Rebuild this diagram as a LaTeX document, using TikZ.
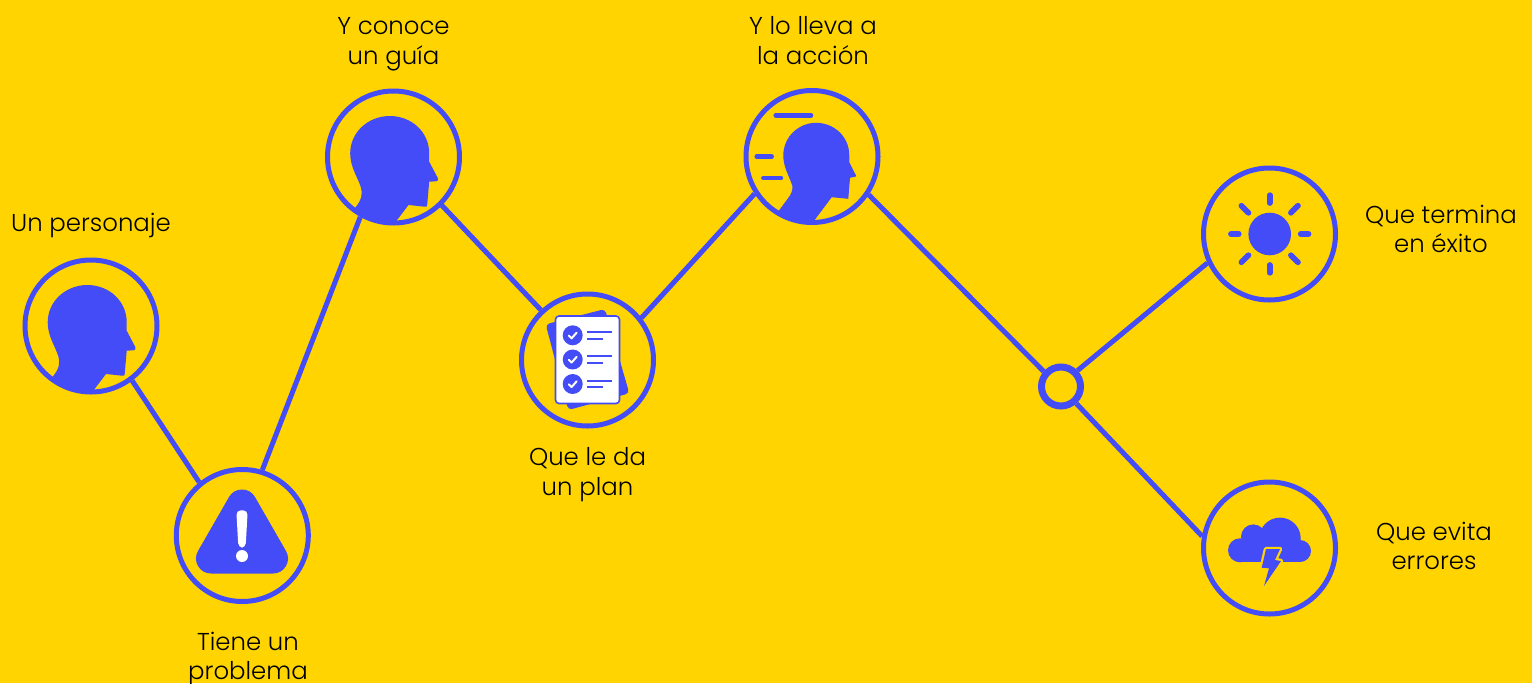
\documentclass[tikz,border=0pt]{standalone}
\usepackage{fontspec}
\setmainfont[UprightFont=* Light]{Poppins}
\definecolor{bgy}{HTML}{FFD400}
\definecolor{ink}{HTML}{444CF7}
\tikzset{
  ring/.style={circle,draw=ink,line width=5pt,minimum size=132pt,inner sep=0pt,fill=bgy},
  hub/.style={circle,draw=ink,line width=7pt,minimum size=39pt,inner sep=0pt,fill=bgy},
  wire/.style={draw=ink,line width=5pt},
  lab/.style={align=center,text=black,font=\fontsize{24.4}{29.5}\selectfont,inner sep=0pt},
  bar/.style={draw=ink,line width=4.5pt,line cap=round},
  ray/.style={draw=ink,line width=5.7pt,line cap=round},
  rule/.style={draw=ink,line width=2pt},
  tick/.style={draw=white,line width=2pt,line cap=round,line join=round},
  headone/.pic={
    \fill[ink] (-38.7,51.3) .. controls (-31,42) and (-31,36) .. (-32.7,30)
      .. controls (-36,20) and (-43.3,10) .. (-43.3,-3.7)
      .. controls (-43.3,-25) and (-25,-41) .. (-3.7,-41)
      .. controls (18,-41) and (35.7,-25) .. (35.7,-3.7)
      -- (35.7,4.7) -- (44.3,21) .. controls (45,23) and (44.5,24) .. (42.5,24.3)
      -- (35.7,24.7) -- (33.7,48) .. controls (33.5,49.5) and (33,50) .. (31,49.7)
      -- (15,48) -- (2.3,64.7)
      .. controls (-12,65.5) and (-27,60) .. (-38.7,51.3) -- cycle;
  },
  headtwo/.pic={
    \fill[ink] (-33.7,55) -- (-22,39) .. controls (-19,34) and (-19,29) .. (-20.5,27)
      .. controls (-24,17) and (-28.7,10) .. (-28.7,-1)
      .. controls (-28.7,-20) and (-13,-33.7) .. (4,-33.7)
      .. controls (22,-33.7) and (37.3,-20) .. (37.3,-1)
      -- (37.3,5.7) -- (44,19) -- (44,20) -- (38,21.3) -- (36.3,42.3)
      -- (19.7,40.7) -- (2.3,64)
      .. controls (-10,66) and (-24,62) .. (-33.7,55) -- cycle;
  }
}
\begin{document}
\begin{tikzpicture}[x=1pt,y=-1pt]
\useasboundingbox (0,0) rectangle (1532,683);
\fill[bgy] (0,0) rectangle (1532,683);

\node[ring] (a) at (91,326) {};
\node[ring] (b) at (242.3,535.5) {};
\node[ring] (c) at (393.5,157) {};
\node[ring] (d) at (587.5,360) {};
\node[ring] (e) at (812,156.5) {};
\node[ring] (f) at (1269.5,234) {};
\node[ring] (g) at (1269.5,548) {};
\node[hub] (j) at (1061,386.5) {};

\draw[wire] (a.-53) -- (b.129);
\draw[wire] (b.73) -- (c.241.5);
\draw[wire] (c.-45) -- (d.133);
\draw[wire] (d.38.7) -- (e.213.8);
\draw[wire] (e.-34.5) -- (j.139);
\draw[wire] (j.44) -- (f.205);
\draw[wire] (j.-48) -- (g.170);

\pic at (91,326) {headone};
\pic at (393.5,157) {headone};
\pic at (812,156.5) {headtwo};
\draw[bar] (775.7,115.3) -- (811,115.3);
\draw[bar] (756.7,156.7) -- (771.7,156.7);
\draw[bar] (763.3,178) -- (781,178);

% warning
\filldraw[ink,line width=30pt,line join=round] (242,504.5) -- (273,558.5) -- (211,558.5) -- cycle;
\fill[white,rounded corners=4.5pt] (236.3,510.3) -- (247.7,510.3) -- (245.6,547.7) -- (238.4,547.7) -- cycle;
\fill[white] (242,556) circle (6pt);

% checklist
\fill[ink,rounded corners=4pt] (545.7,324.3) -- (605,309) -- (629.3,393.3) -- (568.3,410) -- cycle;
\filldraw[fill=white,draw=ink,line width=1.6pt,rounded corners=3.5pt] (555.5,316) rectangle (619.5,403.5);
\foreach \yy in {335.3,359.5,384}{
  \fill[ink] (572.7,\yy) circle (10pt);
  \draw[tick] (568.8,\yy+0.3) -- (571.6,\yy+3) -- (576.6,\yy-2.6);
  \draw[rule] (587.3,\yy-3.3) -- (612,\yy-3.3);
  \draw[rule] (587.3,\yy+3.3) -- (603.3,\yy+3.3);
}

% sun
\fill[ink] (1269.7,234) circle (21.3pt);
\foreach \aa in {0,45,...,315}{
  \pgfmathsetmacro{\rin}{mod(\aa,90)==0 ? 31 : 30}
  \pgfmathsetmacro{\rout}{mod(\aa,90)==0 ? 38.8 : 40}
  \draw[ray] ([shift={(\aa:\rin pt)}]1269.7,234) -- ([shift={(\aa:\rout pt)}]1269.7,234);
}

% storm cloud
\fill[ink] (1240,550.3) circle (12pt);
\fill[ink] (1253.3,536.7) circle (12.3pt);
\fill[ink] (1280,538.3) circle (20.7pt);
\fill[ink] (1300,551) circle (11pt);
\fill[ink] (1240,541) rectangle (1300,562.3);
\draw[bgy,line width=4.4pt,line join=round] (1266,549) -- (1280,549) -- (1275,560) -- (1281,561) -- (1264,586) -- (1269,568.3) -- (1261.7,567.7) -- cycle;
\fill[ink] (1266,549) -- (1280,549) -- (1275,560) -- (1281,561) -- (1264,586) -- (1269,568.3) -- (1261.7,567.7) -- cycle;

% labels
\node[lab] (t1) at (91,225) {Un personaje};
\node[lab] (t2) at (248,659) {Tiene un\\problema};
\node[lab] (t3) at (393.5,44) {Y conoce\\un guía};
\node[lab] (t4) at (587.5,474.5) {Que le da\\un plan};
\node[lab] (t5) at (813,40.5) {Y lo lleva a\\la acción};
\node[lab] (t6) at (1441,229) {Que termina\\en éxito};
\node[lab] (t7) at (1434,546) {Que evita\\errores};
\end{tikzpicture}
\end{document}
